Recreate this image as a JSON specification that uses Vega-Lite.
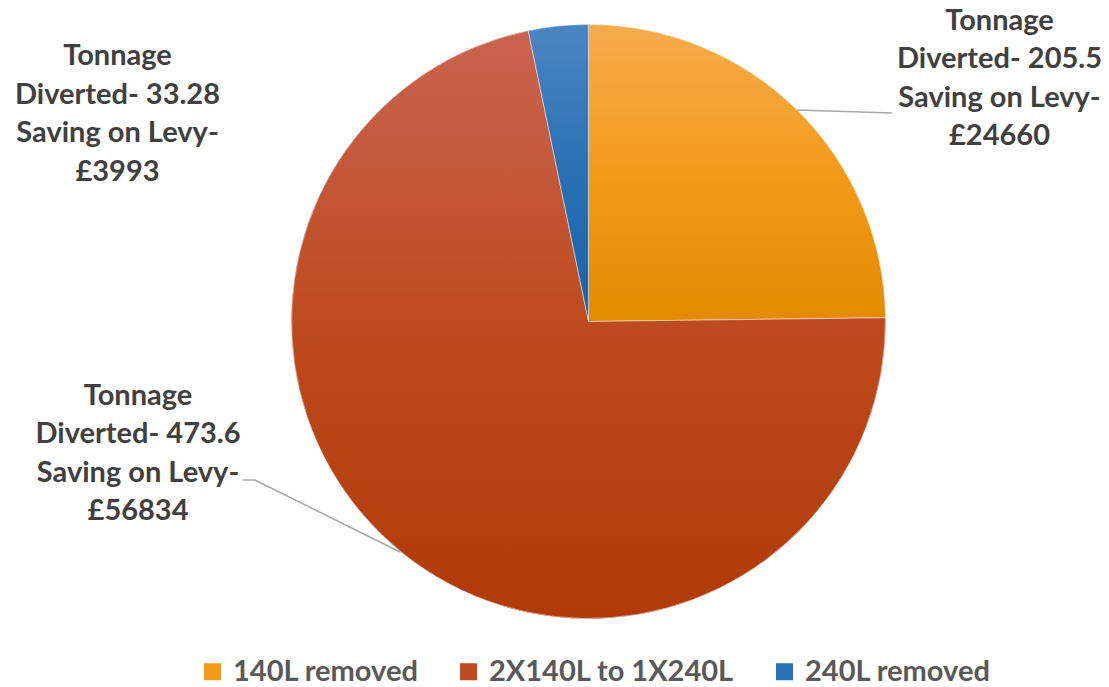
{
  "$schema": "https://vega.github.io/schema/vega-lite/v6.json",
  "autosize": {"type": "none"},
  "width": 1043,
  "height": 643,
  "padding": {"left": 67, "top": 0, "right": 0, "bottom": 44},
  "background": "white",
  "config": {"view": {"stroke": null}, "font": "Lato"},
  "datasets": {
    "slices": [
      {"name": "140L removed", "share": 24.8, "idx": 1},
      {"name": "2X140L to 1X240L", "share": 71.95, "idx": 2},
      {"name": "240L removed", "share": 3.25, "idx": 3}
    ],
    "labels": [
      {"slice": "140L removed", "u": 1.3838, "v": 1.0126, "text": "Tonnage\nDiverted- 205.5\nSaving on Levy-\n£24660"},
      {"slice": "2X140L to 1X240L", "u": -1.5168, "v": -0.25, "text": "Tonnage\nDiverted- 473.6\nSaving on Levy-\n£56834"},
      {"slice": "240L removed", "u": -1.5859, "v": 0.8931, "text": "Tonnage\nDiverted- 33.28\nSaving on Levy-\n£3993"}
    ],
    "leaders": [
      {"slice": "140L removed", "seq": 1, "u": 0.702, "v": 0.7121},
      {"slice": "140L removed", "seq": 2, "u": 1.0219, "v": 0.702},
      {"slice": "2X140L to 1X240L", "seq": 1, "u": -1.1633, "v": -0.5337},
      {"slice": "2X140L to 1X240L", "seq": 2, "u": -1.1229, "v": -0.5337},
      {"slice": "2X140L to 1X240L", "seq": 3, "u": -0.6347, "v": -0.7761}
    ]
  },
  "layer": [
    {
      "data": {"name": "slices"},
      "mark": {"type": "arc", "outerRadius": 297},
      "encoding": {
        "theta": {"field": "share", "type": "quantitative", "stack": true},
        "order": {"field": "idx", "type": "quantitative"},
        "color": {
          "field": "name",
          "type": "nominal",
          "scale": {
            "domain": ["140L removed", "2X140L to 1X240L", "240L removed"],
            "range": ["#F39B1A", "#BE4A1F", "#2A70B4"]
          },
          "legend": {
            "orient": "none",
            "legendX": 131,
            "legendY": 657,
            "direction": "horizontal",
            "title": null,
            "padding": 0,
            "labelFont": "Lato",
            "labelFontWeight": "bold",
            "labelFontSize": 29,
            "labelColor": "#595959",
            "labelLimit": 500,
            "labelOffset": 6,
            "symbolType": "square",
            "symbolSize": 289,
            "symbolStrokeWidth": 0,
            "columnPadding": 35
          }
        }
      }
    },
    {
      "data": {"name": "slices"},
      "mark": {"type": "arc", "outerRadius": 297, "stroke": "white", "strokeWidth": 0.5},
      "encoding": {
        "theta": {"field": "share", "type": "quantitative", "stack": true},
        "order": {"field": "idx", "type": "quantitative"},
        "fill": {
          "condition": [
            {"test": "datum.name === '140L removed'", "value": {"gradient": "linear", "x1": 0, "y1": 0, "x2": 0, "y2": 1, "stops": [{"offset": 0, "color": "#F6AB4C"}, {"offset": 0.5, "color": "#F39B1A"}, {"offset": 1, "color": "#E38A00"}]}},
            {"test": "datum.name === '240L removed'", "value": {"gradient": "linear", "x1": 0, "y1": 0, "x2": 0, "y2": 1, "stops": [{"offset": 0, "color": "#4A86C2"}, {"offset": 0.5, "color": "#2A70B4"}, {"offset": 1, "color": "#1863AA"}]}}
          ],
          "value": {"gradient": "linear", "x1": 0, "y1": 0, "x2": 0, "y2": 1, "stops": [{"offset": 0, "color": "#C96451"}, {"offset": 0.5, "color": "#BE4A1F"}, {"offset": 1, "color": "#B03A08"}]}
        }
      }
    },
    {
      "data": {"name": "leaders"},
      "mark": {"type": "line", "color": "#A6A6A6", "strokeWidth": 1.5},
      "encoding": {
        "x": {"field": "u", "type": "quantitative", "scale": {"domain": [-1.7559, 1.7559], "nice": false, "zero": false}, "axis": null},
        "y": {"field": "v", "type": "quantitative", "scale": {"domain": [-1.0825, 1.0825], "nice": false, "zero": false}, "axis": null},
        "detail": {"field": "slice", "type": "nominal"},
        "order": {"field": "seq", "type": "quantitative"}
      }
    },
    {
      "data": {"name": "labels"},
      "mark": {"type": "text", "font": "Lato", "fontWeight": "bold", "fontSize": 29, "color": "#404040", "lineBreak": "\n", "lineHeight": 38.5, "align": "center", "baseline": "middle"},
      "encoding": {
        "x": {"field": "u", "type": "quantitative"},
        "y": {"field": "v", "type": "quantitative"},
        "text": {"field": "text", "type": "nominal"}
      }
    }
  ]
}
